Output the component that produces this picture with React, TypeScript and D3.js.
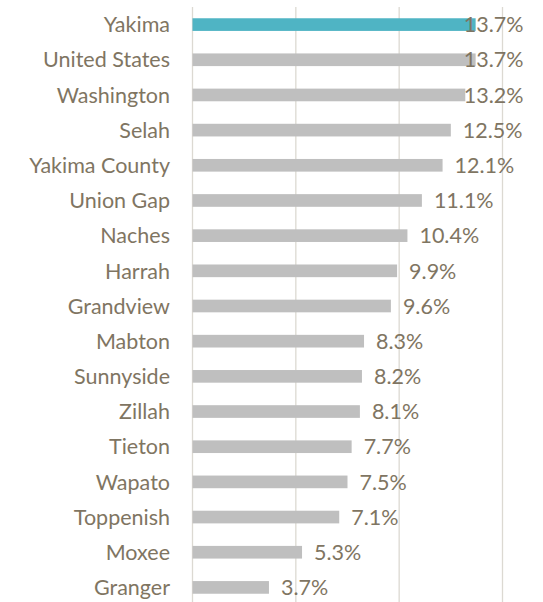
import React, { useEffect, useRef } from "react";
import * as d3 from "d3";

const categories = [
  "Yakima", "United States", "Washington", "Selah", "Yakima County", "Union Gap",
  "Naches", "Harrah", "Grandview", "Mabton", "Sunnyside", "Zillah", "Tieton",
  "Wapato", "Toppenish", "Moxee", "Granger",
];
const values = [13.7, 13.7, 13.2, 12.5, 12.1, 11.1, 10.4, 9.9, 9.6, 8.3, 8.2, 8.1, 7.7, 7.5, 7.1, 5.3, 3.7];
const highlight = "Yakima";
const gridTicks = [0, 5, 10, 15];

const W = 543;
const H = 602;

export default function App() {
  const ref = useRef<SVGSVGElement | null>(null);
  useEffect(() => {
    const svg = d3.select(ref.current);
    svg.selectAll("*").remove();
    const x = d3.scaleLinear().domain([0, 15]).range([192.5, 502.5]);
    const y = d3.scaleBand<string>().domain(categories).range([7, 605]).paddingInner(0.64).paddingOuter(0.32);
    const font = "Lato, 'Open Sans', sans-serif";
    const fs = 21.5;
    const textColor = "#7f7562";
    const base = (c: string) => y(c)! + y.bandwidth() / 2 + fs * 0.717 / 2;

    svg.append("g").selectAll("line").data(gridTicks).join("line")
      .attr("x1", (d) => x(d)).attr("x2", (d) => x(d))
      .attr("y1", 7).attr("y2", H)
      .attr("stroke", "#dcd9d2").attr("stroke-width", 1.3);

    const data = categories.map((c, i) => ({ c, v: values[i] }));

    svg.append("g").selectAll("rect").data(data).join("rect")
      .attr("x", x(0)).attr("y", (d) => y(d.c)!)
      .attr("width", (d) => x(d.v) - x(0)).attr("height", y.bandwidth())
      .attr("fill", (d) => (d.c === highlight ? "#4fb4c4" : "#bfbfbf"));

    svg.append("g").selectAll("text").data(data).join("text")
      .attr("x", 170).attr("y", (d) => base(d.c))
      .attr("text-anchor", "end")
      .attr("font-family", font).attr("font-size", fs).attr("fill", textColor)
      .text((d) => d.c);

    const vl = svg.append("g").selectAll("text").data(data).join("text")
      .attr("y", (d) => base(d.c))
      .attr("font-family", font).attr("font-size", fs).attr("fill", textColor)
      .text((d) => d3.format(".1f")(d.v) + "%");
    vl.each(function (d) {
      const el = this as SVGTextElement;
      const w = el.getComputedTextLength();
      const xx = Math.min(x(d.v) + 12, 523.5 - w);
      d3.select(el).attr("x", xx);
    });
  }, []);
  return <svg ref={ref} width={W} height={H} style={{ position: "absolute", left: 0, top: 0 }} />;
}
